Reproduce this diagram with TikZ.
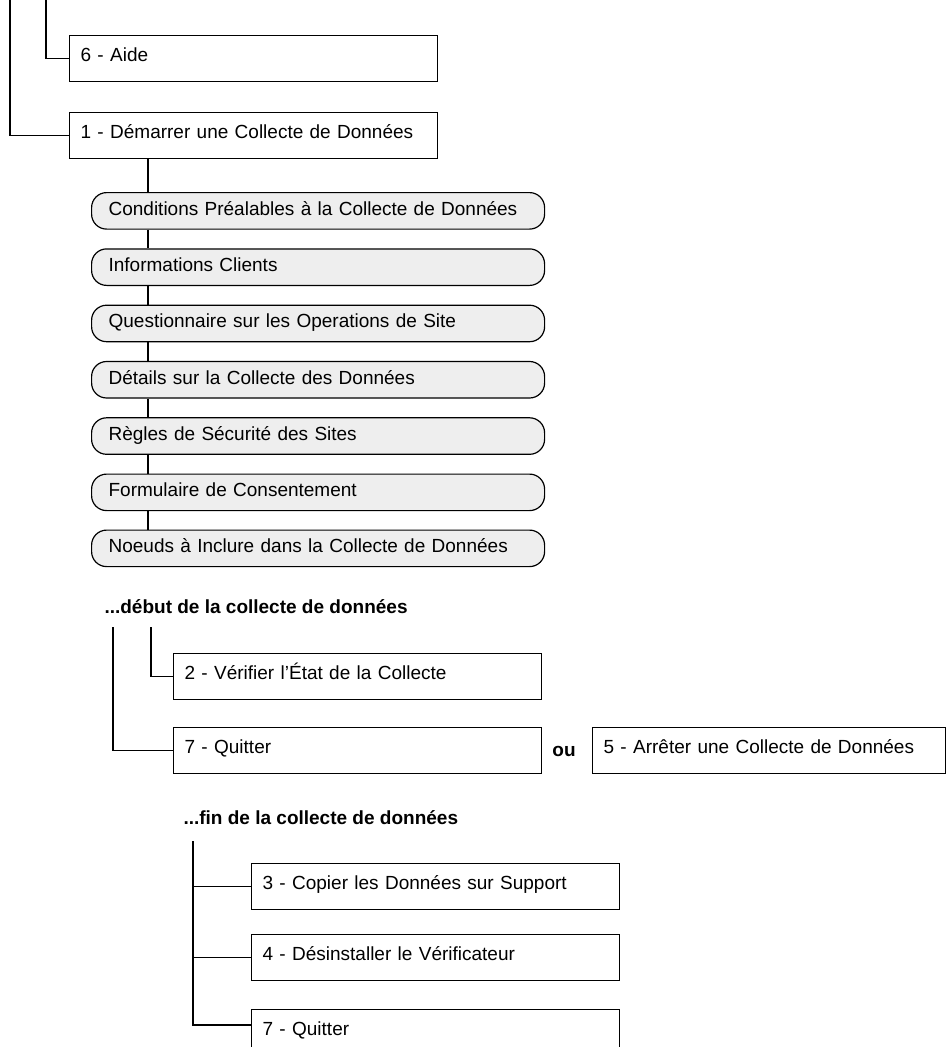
\documentclass[tikz,border=0pt]{standalone}
\usepackage{fontspec}
\setmainfont{Liberation Sans}
\definecolor{boxgray}{HTML}{EEEEEE}
\begin{document}
\begin{tikzpicture}[x=1pt,y=-1pt,
  every node/.style={font=\fontsize{19}{22}\selectfont},
  conn/.style={line width=1.2pt},
  rect/.style={draw, line width=1.2pt, anchor=north west, minimum height=46pt,
    inner xsep=11pt, text height=13.6pt, text depth=8pt, align=left, text width=#1},
  rect/.default=346pt,
  rbox/.style={draw, fill=boxgray, rounded corners=15pt, line width=1.2pt, anchor=north west,
    minimum height=36.5pt, inner xsep=17pt, text height=13.6pt, text depth=5pt,
    align=left, text width=419pt},
  head/.style={font=\fontsize{19}{22}\selectfont\bfseries}
]
\useasboundingbox (0,0) rectangle (947,1047);
\clip (0,0) rectangle (947,1047);

% top boxes
\node[rect] (box6) at (69,35) {6 - Aide};
\node[rect] (box1) at (69,112) {1 - Démarrer une Collecte de Données};
\coordinate (t1) at (10,-2);
\coordinate (t2) at (46,-2);
\draw[conn] (t1) |- (box1.west);
\draw[conn] (t2) |- (box6.west);

% rounded sub-steps
\coordinate (sp) at (148,0);
\node[rbox] (r1) at (91,192.0) {Conditions Préalables à la Collecte de Données};
\node[rbox] (r2) at (91,248.3) {Informations Clients};
\node[rbox] (r3) at (91,304.6) {Questionnaire sur les Operations de Site};
\node[rbox] (r4) at (91,360.9) {Détails sur la Collecte des Données};
\node[rbox] (r5) at (91,417.2) {Règles de Sécurité des Sites};
\node[rbox] (r6) at (91,473.5) {Formulaire de Consentement};
\node[rbox] (r7) at (91,529.5) {Noeuds à Inclure dans la Collecte de Données};
\draw[conn] (box1.south -| sp) -- (r1.north -| sp);
\draw[conn] (r1.south -| sp) -- (r2.north -| sp);
\draw[conn] (r2.south -| sp) -- (r3.north -| sp);
\draw[conn] (r3.south -| sp) -- (r4.north -| sp);
\draw[conn] (r4.south -| sp) -- (r5.north -| sp);
\draw[conn] (r5.south -| sp) -- (r6.north -| sp);
\draw[conn] (r6.south -| sp) -- (r7.north -| sp);

% during collection
\node[head, anchor=base west] (h1) at (101,613) {...début de la collecte de données};
\node[rect] (box2) at (173,653) {2 - Vérifier l’État de la Collecte};
\node[rect] (box7a) at (173,727) {7 - Quitter};
\node[head, anchor=base] (ou) at (564,756) {ou};
\node[rect=331pt] (box5) at (592,727) {5 - Arrêter une Collecte de Données};
\coordinate (m1) at (113,627);
\coordinate (m2) at (151,627);
\draw[conn] (m2) |- (box2.west);
\draw[conn] (m1) |- (box7a.west);

% end of collection
\node[head, anchor=base west] (h2) at (180,824) {...fin de la collecte de données};
\node[rect] (box3) at (251,863) {3 - Copier les Données sur Support};
\node[rect] (box4) at (251,934) {4 - Désinstaller le Vérificateur};
\node[rect] (box7b) at (251,1009) {7 - Quitter};
\coordinate (b0) at (193,841);
\draw[conn] (b0) |- ([yshift=-16pt]box7b.north west);
\draw[conn] (b0 |- box3.west) -- (box3.west);
\draw[conn] (b0 |- box4.west) -- (box4.west);
\end{tikzpicture}
\end{document}
